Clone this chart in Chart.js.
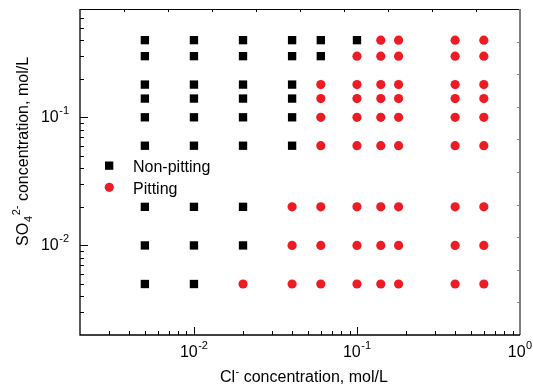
<!DOCTYPE html>
<html>
<head>
<meta charset="utf-8">
<script src="https://cdn.jsdelivr.net/npm/chart.js@4/dist/chart.umd.min.js"></script>
<style>
  html, body { margin: 0; padding: 0; background: #fff; }
  #wrap { width: 533px; height: 387px; }
</style>
</head>
<body>
<div id="wrap"><canvas id="chart" width="533" height="387"></canvas></div>
<script>
// Cl- concentration (mol/L) and SO4 2- concentration (mol/L) for each test
const nonPittingCl = [
  0.005, 0.005, 0.005, 0.005, 0.005, 0.005, 0.005, 0.005, 0.005,
  0.01, 0.01, 0.01, 0.01, 0.01, 0.01, 0.01, 0.01, 0.01,
  0.02, 0.02, 0.02, 0.02, 0.02, 0.02, 0.02, 0.02,
  0.04, 0.04, 0.04, 0.04, 0.04, 0.04,
  0.06, 0.06,
  0.1
];
const nonPittingSO4 = [
  0.4, 0.3, 0.18, 0.14, 0.1, 0.06, 0.02, 0.01, 0.005,
  0.4, 0.3, 0.18, 0.14, 0.1, 0.06, 0.02, 0.01, 0.005,
  0.4, 0.3, 0.18, 0.14, 0.1, 0.06, 0.02, 0.01,
  0.4, 0.3, 0.18, 0.14, 0.1, 0.06,
  0.4, 0.3,
  0.4
];
const pittingCl = [
  0.02,
  0.04, 0.04, 0.04,
  0.06, 0.06, 0.06, 0.06, 0.06, 0.06, 0.06,
  0.1, 0.1, 0.1, 0.1, 0.1, 0.1, 0.1, 0.1,
  0.14, 0.14, 0.14, 0.14, 0.14, 0.14, 0.14, 0.14, 0.14,
  0.18, 0.18, 0.18, 0.18, 0.18, 0.18, 0.18, 0.18, 0.18,
  0.4, 0.4, 0.4, 0.4, 0.4, 0.4, 0.4, 0.4, 0.4,
  0.6, 0.6, 0.6, 0.6, 0.6, 0.6, 0.6, 0.6, 0.6
];
const pittingSO4 = [
  0.005,
  0.02, 0.01, 0.005,
  0.18, 0.14, 0.1, 0.06, 0.02, 0.01, 0.005,
  0.3, 0.18, 0.14, 0.1, 0.06, 0.02, 0.01, 0.005,
  0.4, 0.3, 0.18, 0.14, 0.1, 0.06, 0.02, 0.01, 0.005,
  0.4, 0.3, 0.18, 0.14, 0.1, 0.06, 0.02, 0.01, 0.005,
  0.4, 0.3, 0.18, 0.14, 0.1, 0.06, 0.02, 0.01, 0.005,
  0.4, 0.3, 0.18, 0.14, 0.1, 0.06, 0.02, 0.01, 0.005
];
const xRange = [0.002, 1];
const yRange = [0.002, 0.7];
const xTickExp = [-2, -1, 0];
const yTickExp = [-2, -1];
const seriesNames = ['Non-pitting', 'Pitting'];

const rojo = 'rgb(237,28,36)';
const fuente = '"Liberation Sans", Arial, sans-serif';

function puntos(xs, ys) {
  return xs.map((x, i) => ({ x: x, y: ys[i] }));
}

// texto "10^n" con exponente
function potencia(ctx, exp, x, y, align) {
  ctx.font = '16px ' + fuente;
  const wBase = ctx.measureText('10').width;
  ctx.font = '11px ' + fuente;
  const sup = String(exp);
  const wSup = ctx.measureText(sup).width;
  const total = wBase + wSup + 0.5;
  let x0 = x - total / 2;
  if (align === 'right') x0 = x - total;
  ctx.textAlign = 'left';
  ctx.textBaseline = 'middle';
  ctx.font = '16px ' + fuente;
  ctx.fillText('10', x0, y);
  ctx.font = '11px ' + fuente;
  ctx.fillText(sup, x0 + wBase + 0.5, y - 7);
}

const marcoPlugin = {
  id: 'marco',
  afterDraw(chart) {
    const ctx = chart.ctx;
    const a = chart.chartArea;
    const xs = chart.scales.x, ys = chart.scales.y;
    ctx.save();
    ctx.fillStyle = '#000';
    ctx.strokeStyle = '#000';

    // top axis, uniform little ticks
    ctx.lineWidth = 1;
    ctx.beginPath();
    ctx.moveTo(a.left, a.top + 0.5);
    ctx.lineTo(a.right, a.top + 0.5);
    for (let i = 1; i < 10; i++) {
      const px = Math.round(a.left + (a.right - a.left) * i / 10) + 0.5;
      ctx.moveTo(px, a.top);
      ctx.lineTo(px, a.top + 3);
    }
    ctx.stroke();

    // right axis, grey
    ctx.strokeStyle = '#808080';
    ctx.lineWidth = 2;
    ctx.beginPath();
    ctx.moveTo(a.right, a.top);
    ctx.lineTo(a.right, a.bottom);
    ctx.stroke();
    ctx.lineWidth = 1;
    ctx.beginPath();
    for (let i = 1; i < 10; i++) {
      const py = Math.round(a.top + (a.bottom - a.top) * i / 10) + 0.5;
      ctx.moveTo(a.right, py);
      ctx.lineTo(a.right - 3, py);
    }
    ctx.stroke();

    // left and bottom axes
    ctx.strokeStyle = '#000';
    ctx.lineWidth = 1.3;
    ctx.beginPath();
    ctx.moveTo(a.left, a.top);
    ctx.lineTo(a.left, a.bottom);
    ctx.lineTo(a.right, a.bottom);
    ctx.stroke();

    // log ticks inward
    ctx.lineWidth = 1;
    ctx.beginPath();
    for (let d = -3; d <= 0; d++) {
      for (let k = 1; k <= 9; k++) {
        const v = k * Math.pow(10, d);
        const largo = k === 1 ? 8 : 4;
        if (v > xRange[0] * 1.0001 && v < xRange[1] * 0.9999) {
          const px = Math.round(xs.getPixelForValue(v)) + 0.5;
          ctx.moveTo(px, a.bottom);
          ctx.lineTo(px, a.bottom - largo);
        }
        if (v > yRange[0] * 1.0001 && v < yRange[1] * 0.9999) {
          const py = Math.round(ys.getPixelForValue(v)) + 0.5;
          ctx.moveTo(a.left, py);
          ctx.lineTo(a.left + largo, py);
        }
      }
    }
    ctx.stroke();

    // tick labels
    xTickExp.forEach(e => potencia(ctx, e, xs.getPixelForValue(Math.pow(10, e)), a.bottom + 18, 'center'));
    yTickExp.forEach(e => potencia(ctx, e, a.left - 11, ys.getPixelForValue(Math.pow(10, e)) + 0.5, 'right'));

    // x title: Cl- concentration, mol/L
    ctx.textBaseline = 'alphabetic';
    ctx.textAlign = 'left';
    let x = 220, y = 382;
    ctx.font = '16px ' + fuente;
    ctx.fillText('Cl', x, y);
    x += ctx.measureText('Cl').width;
    ctx.font = '11px ' + fuente;
    ctx.fillText('-', x + 0.5, y - 7);
    x += ctx.measureText('-').width + 0.5;
    ctx.font = '16px ' + fuente;
    ctx.fillText(' concentration, mol/L', x, y);

    // y title: SO4 2- concentration, mol/L
    ctx.save();
    ctx.translate(28, 246);
    ctx.rotate(-Math.PI / 2);
    x = 0; y = 0;
    ctx.font = '16px ' + fuente;
    ctx.fillText('SO', x, y);
    x += ctx.measureText('SO').width + 1;
    ctx.font = '11px ' + fuente;
    ctx.fillText('4', x, y + 4);
    const w4 = ctx.measureText('4').width;
    ctx.fillText('2-', x + w4 + 0.5, y - 8);
    x += w4 + ctx.measureText('2-').width + 0.5;
    ctx.font = '16px ' + fuente;
    ctx.fillText(' concentration, mol/L', x, y);
    ctx.restore();

    // legend
    ctx.fillStyle = '#000';
    ctx.fillRect(105, 161.5, 8.3, 8.3);
    ctx.fillStyle = rojo;
    ctx.beginPath();
    ctx.arc(109.3, 187.3, 4.6, 0, Math.PI * 2);
    ctx.fill();
    ctx.fillStyle = '#000';
    ctx.font = '16px ' + fuente;
    ctx.textBaseline = 'alphabetic';
    ctx.fillText(seriesNames[0], 133, 172);
    ctx.fillText(seriesNames[1], 133, 193.5);

    ctx.restore();
  }
};

new Chart(document.getElementById('chart'), {
  type: 'scatter',
  data: {
    datasets: [
      {
        label: seriesNames[0],
        data: puntos(nonPittingCl, nonPittingSO4),
        pointStyle: 'rect',
        pointRadius: 5.9,
        pointHoverRadius: 5.9,
        backgroundColor: '#000',
        borderColor: '#000',
        borderWidth: 0
      },
      {
        label: seriesNames[1],
        data: puntos(pittingCl, pittingSO4),
        pointStyle: 'circle',
        pointRadius: 4.6,
        pointHoverRadius: 4.6,
        backgroundColor: rojo,
        borderColor: rojo,
        borderWidth: 0
      }
    ]
  },
  options: {
    responsive: false,
    animation: false,
    layout: { padding: { left: 80, right: 13, top: 9, bottom: 52 } },
    plugins: {
      legend: { display: false },
      tooltip: { enabled: false }
    },
    scales: {
      x: {
        type: 'logarithmic',
        min: xRange[0],
        max: xRange[1],
        grid: { display: false },
        border: { display: false },
        ticks: { display: false },
        afterFit(scale) { scale.height = 0; }
      },
      y: {
        type: 'logarithmic',
        min: yRange[0],
        max: yRange[1],
        grid: { display: false },
        border: { display: false },
        ticks: { display: false },
        afterFit(scale) { scale.width = 0; }
      }
    }
  },
  plugins: [marcoPlugin]
});
</script>
</body>
</html>
